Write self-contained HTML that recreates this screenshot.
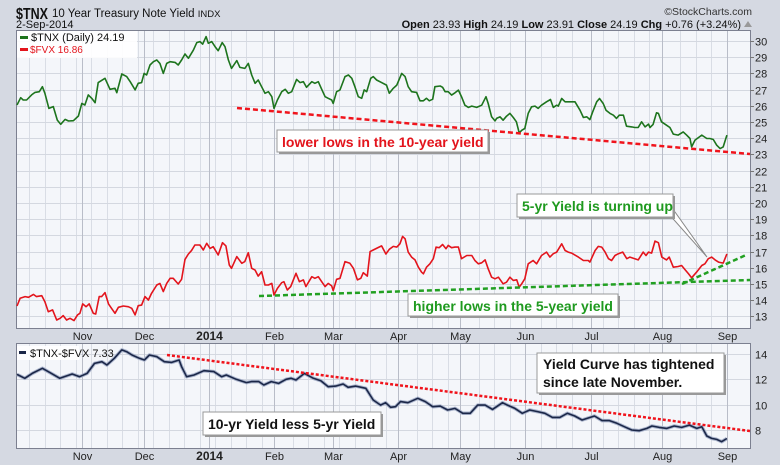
<!DOCTYPE html>
<html><head><meta charset="utf-8">
<style>
body{margin:0;background:#d5d9e2;}
svg{display:block;font-family:"Liberation Sans",sans-serif;}
.nb{font-family:"Liberation Sans Narrow","Liberation Sans",sans-serif;font-weight:bold;}
</style></head>
<body>
<svg id="c" width="780" height="465" viewBox="0 0 780 465">
<rect x="0" y="0" width="780" height="465" fill="#d5d9e2"/>
<text x="16" y="19" font-size="16" font-weight="bold" fill="#111" textLength="32" lengthAdjust="spacingAndGlyphs">$TNX</text>
<text x="52" y="17" font-size="11.5" fill="#111">10 Year Treasury Note Yield <tspan font-size="9.5">INDX</tspan></text>
<text x="752" y="15" font-size="10.5" fill="#333" text-anchor="end">©StockCharts.com</text>
<text x="16" y="28" font-size="11" fill="#111">2-Sep-2014</text>
<text x="741" y="28" font-size="11" fill="#111" text-anchor="end"><tspan font-weight="bold">Open</tspan> 23.93 <tspan font-weight="bold">High</tspan> 24.19 <tspan font-weight="bold">Low</tspan> 23.91 <tspan font-weight="bold">Close</tspan> 24.19 <tspan font-weight="bold">Chg</tspan> +0.76 (+3.24%)</text>
<path d="M744 27 L748 21 L752 27 Z" fill="#999"/>
<rect x="16.5" y="30.5" width="734" height="298" fill="#f4f6fa" stroke="#7c8090"/>
<rect x="16.5" y="343.5" width="734" height="105" fill="#f4f6fa" stroke="#7c8090"/>
<g id="grid"></g>
<g id="series"></g>
<g id="annot"></g>
</svg>
<script>
const monthLabels=["Nov","Dec","2014","Feb","Mar","Apr","May","Jun","Jul","Aug","Sep"];
const monthIdx=[21,41,62,83,102,123,143,164,185,208,229];
const topTicks=[13,14,15,16,17,18,19,20,21,22,23,24,25,26,27,28,29,30];
const botTicks=[8,10,12,14];
const tnxDay=[0,1.2,2,3.1,4.7,5.8,7.2,8.2,9,10.3,11.7,13,14.1,15.5,16.6,18.2,19.8,20.9,21.9,23,24.1,25.2,26.2,28.4,30,31.6,32.2,33.8,35.4,36.5,38.1,39.1,40.2,41,41.8,42.9,44,45.1,46.1,47.2,48.3,49.4,51,52,53.1,54.2,55.3,56.9,58,59,59.9,61,61.7,62.8,63.9,64.9,66.2,67.1,68.2,69.2,70.9,71.9,73.5,74.6,75.7,76.8,77.8,78.9,80,81.1,82.2,82.9,84,85.4,86.5,87.5,88.6,90.2,91.3,92.4,93.4,95.1,96.1,97.2,98.3,99.4,100.4,101.5,102,103.1,104.2,105.8,106.9,108,109,110.1,111.2,112,112.8,114.1,114.9,116,117.6,119.2,120.1,121.4,122.5,124.1,125.2,126.2,127.3,128.9,130,131.1,132.1,133,134.1,134.8,136.5,137.3,138.1,139.1,140.2,141.3,142.4,143.4,144.5,145.6,146.7,148.3,149.9,151.3,152,153.1,154.2,154.7,155.8,156.8,157.9,159,160.1,161.1,162,162.8,163.8,164.9,166,167.1,168.1,169.2,170.8,172.1,173,174.1,174.6,175.7,176.8,177.8,180,181.6,182.7,183.8,184.8,185.7,187,187.9,189.1,190,191.3,192.4,193.4,194.3,195.6,196.6,198.3,199.3,200.4,201.5,202.6,203.7,204.2,205.2,206.3,206.9,207.9,209.5,210.6,211.7,213.3,214.9,216,217.1,217.6,218.7,220.9,222.5,223.5,224.6,225.7,226.8,227.8,229];
const tnxVal=[26.05,26.5,26.36,26.36,26.67,26.83,26.87,27.18,26.77,25.84,25.95,25.12,24.86,25.16,25.06,25.08,25.37,26.15,26.05,26.67,26.46,26.19,27.43,27.7,27.02,27.08,26.81,27.96,27.8,27.49,26.98,27.39,27.43,28,27.9,28.52,28.72,28.83,28.62,28,28.62,28.72,28.68,28.52,28.83,29.2,28.93,29.44,29.9,29.96,29.81,30.27,29.86,29.96,29.65,29.4,29.9,29.65,28.83,28.31,28.79,28.37,28.31,28.62,27.9,27.39,27.59,27.18,26.77,26.87,26.56,25.84,26.36,26.87,27.02,26.77,26.87,27.63,27.43,27.49,27.14,27.49,27.39,27.49,27.02,26.56,26.46,26.36,26.15,26.87,26.98,27.8,27.9,27.7,27.18,26.56,26.46,26.98,26.87,27.7,27.8,27.59,27.43,27.28,26.77,27.08,27.28,28,27.8,27.18,26.87,26.83,26.31,26.31,26.46,26.31,26.41,27.18,27.22,27.14,26.87,26.87,26.66,26.8,26.97,26.56,26.04,25.9,25.98,25.9,26.04,26.56,26.14,25.32,25.07,25.22,25.32,25.11,25.36,25.53,25.28,25.01,24.33,24.49,24.6,25.53,25.94,25.98,25.84,26.04,26.25,26.39,25.9,26.04,25.98,26.45,26.25,26.25,26.25,25.73,25.28,25.32,25.15,25.63,26.25,26.45,26.14,25.73,25.53,25.42,25.22,25.42,25.42,24.74,24.7,24.66,24.66,25.01,24.7,24.87,24.66,24.85,25.57,25.53,25.01,24.8,24.66,24.25,24.19,24.39,24.19,23.98,23.46,23.88,24.19,23.98,23.98,23.92,23.57,23.36,23.46,24.19];
const fvxDay=[0,1,2.6,3.7,5.3,6.3,8,9,10.1,11.5,12.8,13.9,14.9,16,17.1,18.4,19.5,20.3,21.2,22.3,23.3,24.6,25.4,26.5,27.3,28.4,29.5,30.5,31.6,32.7,34.3,35.9,37,38.1,39.1,40.2,41.3,42.4,43.4,45.1,46.1,47.2,48.3,49.4,50.4,52,53.1,54.2,55.3,56.3,57.4,59,60.1,61.2,62.3,63.3,64.9,66.3,67.4,68.5,69.2,70.9,72.5,73.5,74.6,75.7,76.8,77.8,78.9,80,81.1,82.2,82.9,84,85.4,86.1,87.2,88.3,90,91.1,92.4,93.2,95.1,96.1,97.2,98.3,99.4,100.4,101.5,102,103.1,104.2,105.8,107.4,108.5,109.8,110.9,111.7,113,113.9,114.9,116.6,117.6,119,120.1,121.4,122.5,123.5,124.4,125.2,126.2,127.3,128.4,129.5,130.5,131.1,132.1,133.2,134.3,135.2,136.2,137.3,138.4,139.1,140.2,141.3,142.4,143.4,145.1,146.7,147.7,148.8,149.9,151,152,153.1,154.2,155.3,156.8,157.9,159,160.1,161.2,162,162.8,163.8,164.9,166.5,167.6,169.2,170.8,171.9,173,174.1,175.7,176.8,177.8,178.9,181.1,182.7,184.3,184.8,186.5,187.5,188.6,189.7,190.8,191.8,192.9,194,195.4,196.7,197.7,199.3,200.4,202,202.9,203.7,204.7,205.8,206.9,208,209.5,210.4,211.7,213.3,214.4,215.5,216.6,217.6,219.2,220.9,221.9,223,224.1,225.2,226.3,227.8,229];
const fvxVal=[13.64,14.12,14.22,14.18,14.36,14.22,14.28,13.91,13.29,13.4,12.78,12.88,13.05,12.78,12.88,12.74,13.09,13.19,13.77,13.6,13.77,13.19,13.15,14.22,14.22,14.47,13.77,13.5,13.19,13.56,13.64,13.6,13.5,13.09,13.66,13.7,14.22,14.01,14.42,14.94,15.04,14.53,15.04,15.35,15.35,15,15.29,16.52,16.85,17.06,17.41,17.41,17.1,17.51,17.2,17.3,16.79,17.55,17.35,16.17,15.97,16.69,16.28,16.38,16.93,15.97,15.86,15.49,15.76,14.94,14.94,15.04,14.32,14.73,15.08,15.14,14.63,14.84,15.66,15.14,15.25,14.84,15.45,15.35,15.45,15.14,14.84,15.04,14.88,14.59,15.29,15.35,16.38,16.28,15.97,15.25,15.35,15.7,15.49,17,17.1,17.26,17.35,16.85,17.14,17.32,17.28,17.48,17.94,17.79,16.97,16.66,16.49,16.04,15.73,15.63,16.04,16.25,16.56,17.28,17.24,17.44,17.18,17.38,17.24,17.28,17.28,16.56,16.76,16.76,16.45,16.25,16.31,16.49,15.94,15.42,15.32,15.42,15.01,15.11,15.42,15.22,15.26,14.8,15.01,15.32,16.25,16.45,16.25,16.76,16.97,16.66,16.87,16.97,17.48,17.07,16.97,16.91,16.66,16.45,16.45,16.35,17.07,17.32,17.28,16.97,16.56,16.45,16.76,16.87,16.97,16.56,16.66,16.56,16.49,16.97,16.76,16.97,16.91,17.65,17.55,16.66,16.49,16.66,16.04,16.08,16.14,15.88,15.63,15.38,15.73,16.14,16.25,16.56,16.66,16.49,16.35,16.29,16.86];
const sprDay=[0,2.5,4.9,8.2,10.6,13.8,17.8,20.2,22.6,25,27.4,29,31.4,33.8,35.4,37.1,39.5,41.1,42.7,45.1,47.5,49.9,52.3,53.1,54.7,57.1,60.3,63.5,66,67.5,70.7,74,75.6,78,79.6,82,84.4,86.8,88.4,90,92.7,95.6,98,100.4,102.8,105.2,106.8,109.3,112.5,114.9,117.3,118.9,120.5,122.1,123.7,126.1,129.3,131.7,134.1,136.5,138.9,141.3,143.8,146.2,148.6,151,153.4,156.6,158.2,160.6,163,165.4,167.9,170.3,172.7,175.1,177.5,179.9,182.3,183.9,186.3,188.7,191.1,193.5,195.9,198.3,200.7,203.2,204.8,207.2,209.6,212,214.4,216.9,219.3,220.9,222.5,224.1,225.7,227.3,229];
const sprVal=[12.39,12.08,12.47,12.87,12.53,12.08,12.42,12.21,12.47,13.26,13.39,13.13,13.66,14.32,14.18,13.92,13.66,13.53,13.92,13.79,13.39,13.34,13.53,13,12.21,12.34,12.68,12.61,12.21,12.34,12,11.74,11.82,11.82,11.55,11.82,11.68,12,12.08,11.95,12.47,12.08,11.89,11.42,11.47,11.63,11.37,11.47,11.29,10.37,9.97,10.16,9.79,9.84,10.24,10.16,10.5,10.24,9.84,9.89,9.58,9.71,9.32,9.32,9.97,9.97,9.63,10.16,9.97,9.71,9.32,9.58,9.45,9.32,9,9,9.32,9.11,8.79,8.92,9.11,8.74,8.74,8.53,8.26,8,7.95,8.13,8.32,8.21,8.13,8.32,8.21,8.39,8.13,8.26,7.53,7.34,7.26,7.08,7.33];

const NS="http://www.w3.org/2000/svg";
const xs=i=>17+i*3.1;
const yT=v=>41+(30-v)*16.2;
const yB=v=>354+(14-v)*12.67;
function mk(tag,attrs,parent){const e=document.createElementNS(NS,tag);for(const k in attrs)e.setAttribute(k,attrs[k]);parent.appendChild(e);return e;}
const grid=document.getElementById('grid'),ser=document.getElementById('series');

for(let i=4;i<229;i+=5){
  if(monthIdx.some(m=>Math.abs(m-i)<2))continue;
  const x=Math.round(xs(i))+0.5;
  const a=mk('line',{x1:x,x2:x,y1:31,y2:328,stroke:'#d9dde5','stroke-width':1},grid);
  
  
  const b=mk('line',{x1:x,x2:x,y1:344,y2:448,stroke:'#d9dde5','stroke-width':1},grid);
  
  
}
topTicks.forEach(v=>{
  const y=Math.round(yT(v))+0.5;
  const l=mk('line',{x1:17,x2:750,y1:y,y2:y,stroke:'#d4d8e0','stroke-width':1},grid);
  
  
  const tk=mk('line',{x1:750,x2:754,y1:y,y2:y,stroke:'#777'},grid);
  
  
  const t=mk('text',{x:755,y:y+4,'font-size':11,fill:'#222'},grid);t.textContent=v;
  
  
});
botTicks.forEach(v=>{
  const y=Math.round(yB(v))+0.5;
  const l=mk('line',{x1:17,x2:750,y1:y,y2:y,stroke:'#d4d8e0','stroke-width':1},grid);
  
  
  const t=mk('text',{x:755,y:y+4,'font-size':11,fill:'#222'},grid);t.textContent=v;
  
  
});
monthIdx.forEach((m,k)=>{
  const x=Math.round(xs(m))+0.5;
  const a=mk('line',{x1:x,x2:x,y1:31,y2:328,stroke:'#b9bdc8','stroke-width':1},grid);
  
  
  const b=mk('line',{x1:x,x2:x,y1:344,y2:448,stroke:'#b9bdc8','stroke-width':1},grid);
  
  
  [340,460].forEach(y=>{
    const t=mk('text',{x:x,y:y,'font-size':k==2?12:11,'font-weight':k==2?'bold':'normal','text-anchor':'middle',fill:'#222'},grid);
    t.textContent=monthLabels[k];
    
    
  });
});
function path(days,vals,ys){return days.map((d,i)=>(i?'L':'M')+xs(d).toFixed(1)+' '+ys(vals[i]).toFixed(1)).join(' ');}
const sh=mk('path',{d:path(sprDay,sprVal,yB),fill:'none',stroke:'#aab4cc','stroke-width':3.5,'stroke-linejoin':'round'},ser);


const sp=mk('path',{d:path(sprDay,sprVal,yB),fill:'none',stroke:'#1b2748','stroke-width':1.6,'stroke-linejoin':'round'},ser);


const tn=mk('path',{d:path(tnxDay,tnxVal,yT),fill:'none',stroke:'#1d741d','stroke-width':1.6,'stroke-linejoin':'round'},ser);


const fv=mk('path',{d:path(fvxDay,fvxVal,yT),fill:'none',stroke:'#e3141c','stroke-width':1.6,'stroke-linejoin':'round'},ser);


</script>
<script>
(function(){
const ann=document.getElementById('annot');
ann.innerHTML=`
<g>
<rect x="17" y="31" width="120" height="27" fill="#fff" opacity="0.9"/>
<rect x="20" y="36" width="8" height="3" fill="#1d741d"/>
<text x="31" y="41" font-size="11" fill="#111">$TNX (Daily) 24.19</text>
<rect x="20" y="48" width="8" height="3" fill="#e3141c"/>
<text x="30" y="53" font-size="10" fill="#e3141c">$FVX 16.86</text>
</g>
<rect x="17" y="346" width="62" height="14" fill="#fff" opacity="0.9"/>
<rect x="19" y="351" width="7" height="3" fill="#1b2748"/>
<text x="30" y="357" font-size="11" fill="#111">$TNX-$FVX 7.33</text>
<line x1="237" y1="108" x2="750" y2="154" stroke="#f0141c" stroke-width="2.5" stroke-dasharray="5,3"/>
<line x1="259" y1="296" x2="750" y2="280" stroke="#22a022" stroke-width="2.5" stroke-dasharray="5,3"/>
<line x1="682" y1="284" x2="746" y2="255" stroke="#22a022" stroke-width="2.5" stroke-dasharray="5,3"/>
<line x1="167" y1="355" x2="750" y2="431" stroke="#f0141c" stroke-width="2.5" stroke-dasharray="3,2"/>
<polygon points="667,212 675,212 707,257" fill="#fff" stroke="#888"/>
<g>
<rect x="279" y="132" width="211" height="22" fill="#999"/><rect x="277" y="130" width="211" height="22" fill="#fff" stroke="#999"/>
<text x="282" y="147" class="nb" font-size="14" fill="#e3141c">lower lows in the 10-year yield</text></g>
<g>
<rect x="519" y="196" width="156" height="23" fill="#999"/><rect x="517" y="194" width="156" height="23" fill="#fff" stroke="#999"/>
<text x="522" y="211" class="nb" font-size="14" fill="#1f9a1f">5-yr Yield is turning up</text></g>
<g>
<rect x="410" y="296" width="210" height="22" fill="#999"/><rect x="408" y="294" width="210" height="22" fill="#fff" stroke="#999"/>
<text x="413" y="311" class="nb" font-size="14" fill="#1f9a1f">higher lows in the 5-year yield</text></g>
<g>
<rect x="205" y="414" width="178" height="23" fill="#999"/><rect x="203" y="412" width="178" height="23" fill="#fff" stroke="#999"/>
<text x="208" y="429" class="nb" font-size="14" fill="#111">10-yr Yield less 5-yr Yield</text></g>
<g>
<rect x="539" y="355" width="187" height="40" fill="#999"/><rect x="537" y="353" width="187" height="40" fill="#fff" stroke="#999"/>
<text x="543" y="369" class="nb" font-size="14" fill="#111">Yield Curve has tightened</text>
<text x="543" y="387" class="nb" font-size="14" fill="#111">since late November.</text></g>`;
})();
</script>
</body></html>
